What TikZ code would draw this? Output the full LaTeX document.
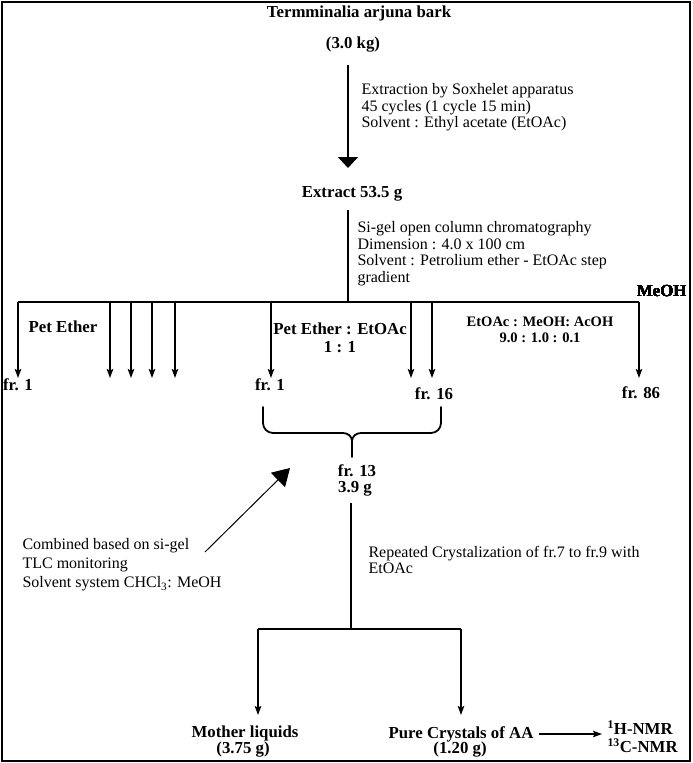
\documentclass[tikz,border=0pt]{standalone}
\usepackage{fontspec}
\setmainfont{Liberation Serif}
\usetikzlibrary{arrows.meta}
\tikzstyle{head} = [font=\fontsize{16.8}{17.5}\selectfont\bfseries, inner sep=0pt, align=center]
\tikzstyle{small} = [font=\fontsize{14.5}{15.5}\selectfont\bfseries, inner sep=0pt, align=center]
\tikzstyle{note} = [font=\fontsize{16}{16.5}\selectfont, inner sep=0pt, align=left, anchor=north west]
\tikzstyle{drop} = [-{Stealth[length=9pt,width=6.5pt,inset=1.5pt]}]
\tikzstyle{bigdrop} = [-{Triangle[length=11pt,width=20pt]}]
\tikzstyle{slant} = [-{Triangle[length=17pt,width=20pt]}]
\tikzstyle{brace} = [line width=1.8pt, line cap=round]
\newcommand{\frdrop}[1]{\draw [drop] (#1 |- bus) -- (#1);}

\begin{document}
\begin{tikzpicture}[x=1pt, y=-1pt, line width=1.1pt]
	\useasboundingbox (0,0) rectangle (693,763);
	\draw [line width=2pt] (2,2) rectangle (690,761);
	% bark and extraction
	\node [head] (bark) at (359,13) {Termminalia arjuna bark};
	\node [head] (kg) at (353,45) {(3.0 kg)};
	\node [head] (extract) at (352,194) {Extract 53.5 g};
	\coordinate (s1) at (348,65);
	\coordinate (e1) at (348,168);
	\draw [bigdrop] (s1) -- (e1);
	\node [note] (soxh) at (361,83) {Extraction by Soxhelet apparatus\\45 cycles (1 cycle 15 min)\\Solvent : Ethyl acetate (EtOAc)};
	% column
	\coordinate (col) at (348,210);
	\coordinate (bus) at (348,302);
	\coordinate (busl) at (18,302);
	\coordinate (busr) at (639,302);
	\draw (col) -- (bus);
	\draw (busl) -- (busr);
	\node [note] (sigel) at (357,221) {Si-gel open column chromatography\\Dimension : 4.0 x 100 cm\\Solvent : Petrolium ether - EtOAc step\\gradient};
	\foreach \x [count=\i] in {18,110,131,152,175,271,411,432,639}
		\coordinate (t\i) at (\x,378);
	\foreach \i in {1,...,9}
		\frdrop{t\i}
	\node [head, anchor=east] (meoh) at (687,291) {MeOH};
	\node [head] (pet) at (63,327) {Pet Ether};
	\node [head] (petea) at (340,338) {Pet Ether : EtOAc\\1 : 1};
	\node [small] (ema) at (540,330) {EtOAc : MeOH: AcOH\\9.0 : 1.0 : 0.1};
	\node [head] (fa) at (18,385) {fr. 1};
	\node [head] (fb) at (270,385) {fr. 1};
	\node [head] (fc) at (434,394) {fr. 16};
	\node [head] (fd) at (641,393) {fr. 86};
	% combined fractions
	\coordinate (bl) at (263,407);
	\coordinate (br) at (441,407);
	\coordinate (bm) at (352,457);
	\draw [brace] (bl) -- ++(0,16) to[out=-90,in=180] ++(10,10) -- ++(70,0) to[out=0,in=90] ++(9,8) -- (bm);
	\draw [brace] (br) -- ++(0,16) to[out=-90,in=0] ++(-10,10) -- ++(-70,0) to[out=180,in=90] ++(-9,8);
	\node [head] (f13) at (357,471) {fr. 13};
	\node [head] (f13g) at (355,489) {3.9 g};
	\coordinate (cm1) at (205,552);
	\coordinate (cm2) at (290,468);
	\draw [slant, line width=1pt] (cm1) -- (cm2);
	\node [note, font=\fontsize{16}{19}\selectfont] (comb) at (22,538) {Combined based on si-gel\\TLC monitoring\\Solvent system CHCl\textsubscript{3}: MeOH};
	% crystallization
	\coordinate (c1) at (351,503);
	\coordinate (c2) at (351,629);
	\coordinate (ml) at (258,715);
	\coordinate (pc) at (461,715);
	\draw (c1) -- (c2);
	\draw (ml |- c2) -- (pc |- c2);
	\draw [drop] (ml |- c2) -- (ml);
	\draw [drop] (pc |- c2) -- (pc);
	\node [note, font=\fontsize{16}{16}\selectfont] (cryst) at (368,546) {Repeated Crystalization of fr.7 to fr.9 with\\EtOAc};
	\node [head] (mother) at (245,733) {Mother liquids};
	\node [head] (motherg) at (243,750) {(3.75 g)};
	\node [head] (pure) at (461,734) {Pure Crystals of AA};
	\node [head] (pureg) at (460,750) {(1.20 g)};
	\node [head, align=left, anchor=west, font=\fontsize{16.8}{18}\selectfont\bfseries] (nmr) at (607,737) {\textsuperscript{1}H-NMR\\\textsuperscript{13}C-NMR};
	\draw [drop, shorten <=5pt, shorten >=5pt] (pure.east) -- (pure.east -| nmr.west);
\end{tikzpicture}
\end{document}
